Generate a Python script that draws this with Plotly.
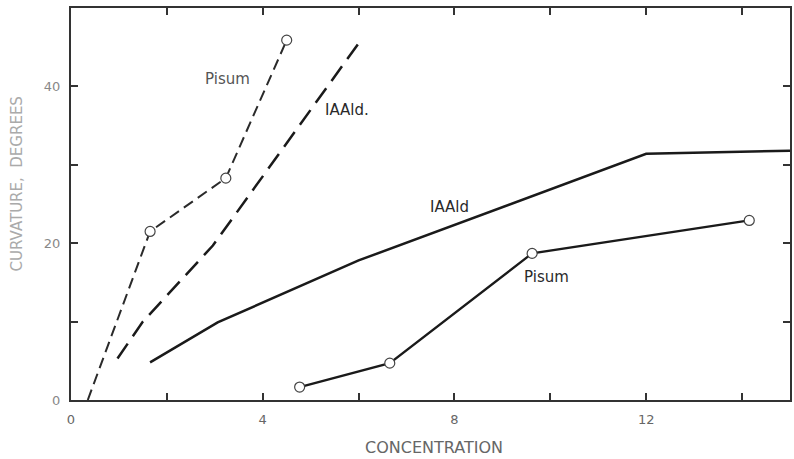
import plotly.graph_objects as go

# Straight-growth curvature vs. auxin concentration
# Low-concentration series (dashed)
pisum_lo_x = [0.35, 1.65, 3.23, 4.5]
pisum_lo_y = [0.0, 21.5, 28.3, 45.9]
pisum_lo_marked = [False, True, True, True]

iaald_lo_x = [0.97, 1.5, 2.96, 6.0]
iaald_lo_y = [5.3, 10.0, 19.7, 45.5]

# High-concentration series (solid)
iaald_hi_x = [1.65, 3.06, 6.0, 12.0, 15.0]
iaald_hi_y = [4.8, 9.9, 17.8, 31.4, 31.8]

pisum_hi_x = [4.77, 6.65, 9.62, 14.15]
pisum_hi_y = [1.65, 4.7, 18.7, 22.9]

x_ticks = [0, 2, 4, 6, 8, 10, 12, 14]
x_tick_text = ["0", "", "4", "", "8", "", "12", ""]
y_ticks = [0, 10, 20, 30, 40]
y_tick_text = ["0", "", "20", "", "40"]

ink = "#1a1a1a"
fig = go.Figure()

fig.add_trace(go.Scatter(
    x=pisum_lo_x, y=pisum_lo_y, mode="lines",
    line=dict(color="#2a2a2a", width=2, dash="11px,6px"),
    hoverinfo="skip"))
fig.add_trace(go.Scatter(
    x=[x for x, m in zip(pisum_lo_x, pisum_lo_marked) if m],
    y=[y for y, m in zip(pisum_lo_y, pisum_lo_marked) if m],
    mode="markers",
    marker=dict(symbol="circle", size=10, color="white",
                line=dict(color="#444", width=1.2))))

fig.add_trace(go.Scatter(
    x=iaald_lo_x, y=iaald_lo_y, mode="lines",
    line=dict(color=ink, width=2.5, dash="18px,9px")))

fig.add_trace(go.Scatter(
    x=iaald_hi_x, y=iaald_hi_y, mode="lines",
    line=dict(color=ink, width=2.5)))

fig.add_trace(go.Scatter(
    x=pisum_hi_x, y=pisum_hi_y, mode="lines+markers",
    line=dict(color=ink, width=2.3),
    marker=dict(symbol="circle", size=10, color="white",
                line=dict(color="#444", width=1.2))))

labels = [
    ("Pisum", 3.27, 40.9, "#555"),
    ("IAAld.", 5.76, 37.0, "#2a2a2a"),
    ("IAAld", 7.9, 24.6, "#2a2a2a"),
    ("Pisum", 9.92, 15.7, "#2a2a2a"),
]
for text, lx, ly, col in labels:
    fig.add_annotation(x=lx, y=ly, text=text, showarrow=False,
                       font=dict(family="DejaVu Sans", size=15, color=col))

# axis titles
fig.add_annotation(xref="paper", yref="paper", x=0.505, y=-0.12,
                   xanchor="center", yanchor="middle",
                   text="CONCENTRATION", showarrow=False,
                   font=dict(family="DejaVu Sans", size=16, color="#666"))
fig.add_annotation(xref="paper", yref="paper", x=-0.075, y=0.55,
                   xanchor="center", yanchor="middle",
                   text="CURVATURE,  DEGREES", showarrow=False, textangle=-90,
                   font=dict(family="DejaVu Sans", size=15, color="#aaa"))

fig.update_layout(
    width=794, height=459,
    margin=dict(l=71, r=2, t=8, b=59),
    paper_bgcolor="white", plot_bgcolor="white",
    showlegend=False,
    xaxis=dict(range=[0, 15], tickvals=x_ticks, ticktext=x_tick_text,
               ticks="inside", ticklen=7, tickwidth=1.5, tickcolor="#333",
               showline=True, linecolor="#333", linewidth=2, mirror="ticks",
               showgrid=False, zeroline=False, ticklabelstandoff=6,
               tickfont=dict(family="DejaVu Sans", size=13, color="#666")),
    yaxis=dict(range=[0, 50], tickvals=y_ticks, ticktext=y_tick_text,
               ticks="inside", ticklen=7, tickwidth=1.5, tickcolor="#333",
               showline=True, linecolor="#333", linewidth=2, mirror="ticks",
               showgrid=False, zeroline=False, ticklabelstandoff=6,
               tickfont=dict(family="DejaVu Sans", size=13, color="#888")),
)

fig.write_html("out.html")
